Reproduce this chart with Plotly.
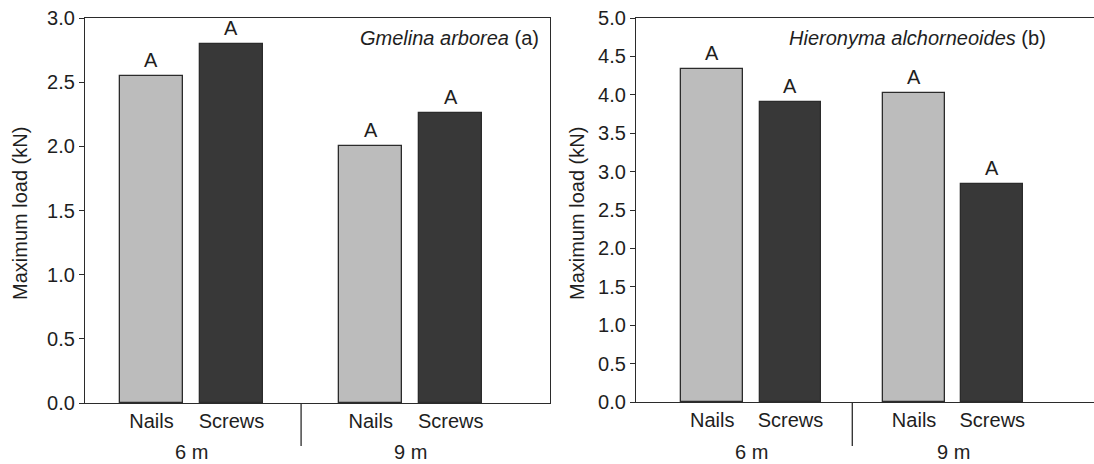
import plotly.graph_objects as go

# Data
groups = ["6 m", "9 m"]
fasteners = ["Nails", "Screws"]
gmelina_nails = [2.55, 2.00]
gmelina_screws = [2.80, 2.26]
hieronyma_nails = [4.34, 4.02]
hieronyma_screws = [3.90, 2.84]
letters_gmelina_nails = ["A", "A"]
letters_gmelina_screws = ["A", "A"]
letters_hieronyma_nails = ["A", "A"]
letters_hieronyma_screws = ["A", "A"]
y_ticks_a = [0.0, 0.5, 1.0, 1.5, 2.0, 2.5, 3.0]
y_ticks_b = [0.0, 0.5, 1.0, 1.5, 2.0, 2.5, 3.0, 3.5, 4.0, 4.5, 5.0]
y_title = "Maximum load (kN)"

FONT = "Liberation Sans, Arial, Helvetica, sans-serif"
FS = 20
TXT = "#1e1e1e"
LIGHT = "#bcbcbc"
DARK = "#383838"
EDGE = "#2b2b2b"

W, H = 1094, 464


def px_x(p):
    return p / W


def px_y(p):
    return 1 - p / H


def positions(gap):
    # bar centres: two fasteners per group, groups separated by `gap`
    xs_n, xs_s = [], []
    for g in range(len(groups)):
        base = g * (1 + gap)
        xs_n.append(base)
        xs_s.append(base + 1)
    return xs_n, xs_s


fig = go.Figure()

panels = [
    dict(xa="x", ya="y", nails=gmelina_nails, screws=gmelina_screws,
         ln=letters_gmelina_nails, ls=letters_gmelina_screws, gap=1.74,
         title="<i>Gmelina arborea</i> (a)", title_right=541, ytitle_x=20),
    dict(xa="x2", ya="y2", nails=hieronyma_nails, screws=hieronyma_screws,
         ln=letters_hieronyma_nails, ls=letters_hieronyma_screws, gap=1.58,
         title="<i>Hieronyma alchorneoides</i> (b)", title_right=1048, ytitle_x=577),
]

annotations = []
shapes = []
for p in panels:
    xs_n, xs_s = positions(p["gap"])
    fig.add_trace(go.Bar(x=xs_n, y=p["nails"], width=0.79, name=fasteners[0],
                         marker=dict(color=LIGHT, line=dict(color=EDGE, width=1.3)),
                         xaxis=p["xa"], yaxis=p["ya"], showlegend=False))
    fig.add_trace(go.Bar(x=xs_s, y=p["screws"], width=0.79, name=fasteners[1],
                         marker=dict(color=DARK, line=dict(color=EDGE, width=1.3)),
                         xaxis=p["xa"], yaxis=p["ya"], showlegend=False))
    # significance letters above bars
    for xs, ys, ls in ((xs_n, p["nails"], p["ln"]), (xs_s, p["screws"], p["ls"])):
        for x, y, t in zip(xs, ys, ls):
            annotations.append(dict(x=x, y=y, xref=p["xa"], yref=p["ya"], text=t,
                                    showarrow=False, yanchor="bottom", yshift=3,
                                    font=dict(family=FONT, size=FS, color=TXT)))
    # group labels and divider
    for g, name in enumerate(groups):
        mid = (xs_n[g] + xs_s[g]) / 2
        annotations.append(dict(x=mid, y=px_y(452), xref=p["xa"], yref="paper",
                                text=name, showarrow=False, yanchor="middle",
                                font=dict(family=FONT, size=FS, color=TXT)))
    div = (xs_s[0] + xs_n[1]) / 2
    shapes.append(dict(type="line", xref=p["xa"], yref="paper", x0=div, x1=div,
                       y0=px_y(403), y1=px_y(446), line=dict(color=EDGE, width=1.3)))
    # panel title
    annotations.append(dict(x=px_x(p["title_right"]), y=px_y(38), xref="paper", yref="paper",
                            text=p["title"], showarrow=False, xanchor="right",
                            yanchor="middle", font=dict(family=FONT, size=FS, color=TXT)))
    # y-axis title
    annotations.append(dict(x=px_x(p["ytitle_x"]), y=px_y(214), xref="paper", yref="paper",
                            text=y_title, showarrow=False, textangle=-90,
                            xanchor="center", yanchor="middle",
                            font=dict(family=FONT, size=FS, color=TXT)))

axis_common = dict(showline=True, linecolor=EDGE, linewidth=1.3, showgrid=False,
                   zeroline=False, automargin=False,
                   tickfont=dict(family=FONT, size=FS, color=TXT))

xs_n_a, xs_s_a = positions(panels[0]["gap"])
xs_n_b, xs_s_b = positions(panels[1]["gap"])
ticktext = [fasteners[0]] * len(groups) + [fasteners[1]] * len(groups)

fig.update_layout(
    width=W, height=H,
    margin=dict(l=0, r=0, t=0, b=0, pad=0, autoexpand=False),
    paper_bgcolor="white", plot_bgcolor="white",
    bargap=0,
    xaxis=dict(domain=[px_x(85), px_x(550)], range=[-0.83, xs_s_a[-1] + 1.24],
               tickvals=xs_n_a + xs_s_a, ticktext=ticktext,
               ticks="", mirror=True, anchor="y", **axis_common),
    yaxis=dict(domain=[px_y(403), px_y(18)], range=[0, 3.0], tickvals=y_ticks_a,
               tickformat=".1f", ticks="outside", ticklen=5, tickcolor=EDGE,
               tickwidth=1.3, mirror=True, anchor="x", **axis_common),
    xaxis2=dict(domain=[px_x(636), 1.0], range=[-0.975, xs_s_b[-1] + 1.30],
                tickvals=xs_n_b + xs_s_b, ticktext=ticktext,
                ticks="", mirror=True, anchor="y2", **axis_common),
    yaxis2=dict(domain=[px_y(402), px_y(18)], range=[0, 5.0], tickvals=y_ticks_b,
                tickformat=".1f", ticks="outside", ticklen=5, tickcolor=EDGE,
                tickwidth=1.3, mirror=False, anchor="x2", **axis_common),
    annotations=annotations,
    shapes=shapes,
)

fig.write_html("out.html")
